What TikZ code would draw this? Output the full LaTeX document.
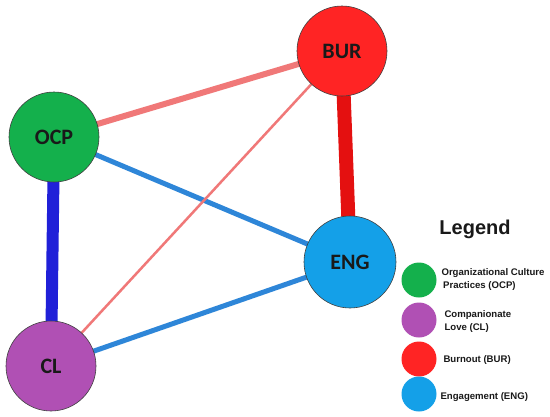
\documentclass[tikz,border=0pt]{standalone}
\usepackage{fontspec}
\setmainfont{Liberation Sans}
\newfontfamily\nodefont{Carlito}
\usetikzlibrary{backgrounds}
\definecolor{cgreen}{HTML}{14B04C}
\definecolor{cpurple}{HTML}{B050B4}
\definecolor{cred}{HTML}{FF2424}
\definecolor{cblue}{HTML}{14A0E8}
\definecolor{lred}{HTML}{F07878}
\definecolor{dred}{HTML}{E41010}
\definecolor{mblue}{HTML}{2E86D8}
\definecolor{dblue}{HTML}{2020D8}
\tikzset{
  bignode/.style={circle, minimum size=90pt, inner sep=0pt, draw=black!75, line width=0.6pt, font=\nodefont\bfseries\fontsize{22}{22}\selectfont, text=black!90},
  legdot/.style={circle, minimum size=35pt, inner sep=0pt},
  legtext/.style={anchor=west, align=left, font=\bfseries\fontsize{9.6}{13}\selectfont, text=black!90},
  edge/.style={line cap=butt}
}
\begin{document}
\begin{tikzpicture}[x=1pt,y=-1pt]
\useasboundingbox (0,0) rectangle (550,416);
\node[bignode, fill=cgreen] (ocp) at (54,137) {OCP};
\node[bignode, fill=cred] (bur) at (342,51) {BUR};
\node[bignode, fill=cblue, minimum size=92pt] (eng) at (350,262) {ENG};
\node[bignode, fill=cpurple] (cl) at (51,366) {CL};
\begin{scope}[on background layer]
\fill[white] (0,0) rectangle (550,416);
\draw[edge, lred, line width=6pt] (ocp.center) -- (bur.center);
\draw[edge, mblue, line width=5pt] (ocp.center) -- (eng.center);
\draw[edge, dblue, line width=12pt] (ocp.center) -- (cl.center);
\draw[edge, dred, line width=14pt] (bur.center) -- (eng.center);
\draw[edge, lred, line width=2.5pt] (bur.center) -- (cl.center);
\draw[edge, mblue, line width=5pt] (cl.center) -- (eng.center);
\end{scope}
\node[font=\bfseries\fontsize{20}{20}\selectfont, text=black!90] (legtitle) at (475,229) {Legend};
\node[legdot, fill=cgreen] (l1) at (419,280) {};
\node[legdot, fill=cpurple] (l2) at (419,320) {};
\node[legdot, fill=cred] (l3) at (419,359) {};
\node[legdot, fill=cblue] (l4) at (419,394) {};
\node[legtext] (t1) at (438,280) {Organizational Culture\\ \,Practices (OCP)};
\node[legtext] (t2) at (441,322) {Companionate\\Love (CL)};
\node[legtext] (t3) at (440,360) {Burnout (BUR)};
\node[legtext] (t4) at (437,397) {Engagement (ENG)};
\end{tikzpicture}
\end{document}
